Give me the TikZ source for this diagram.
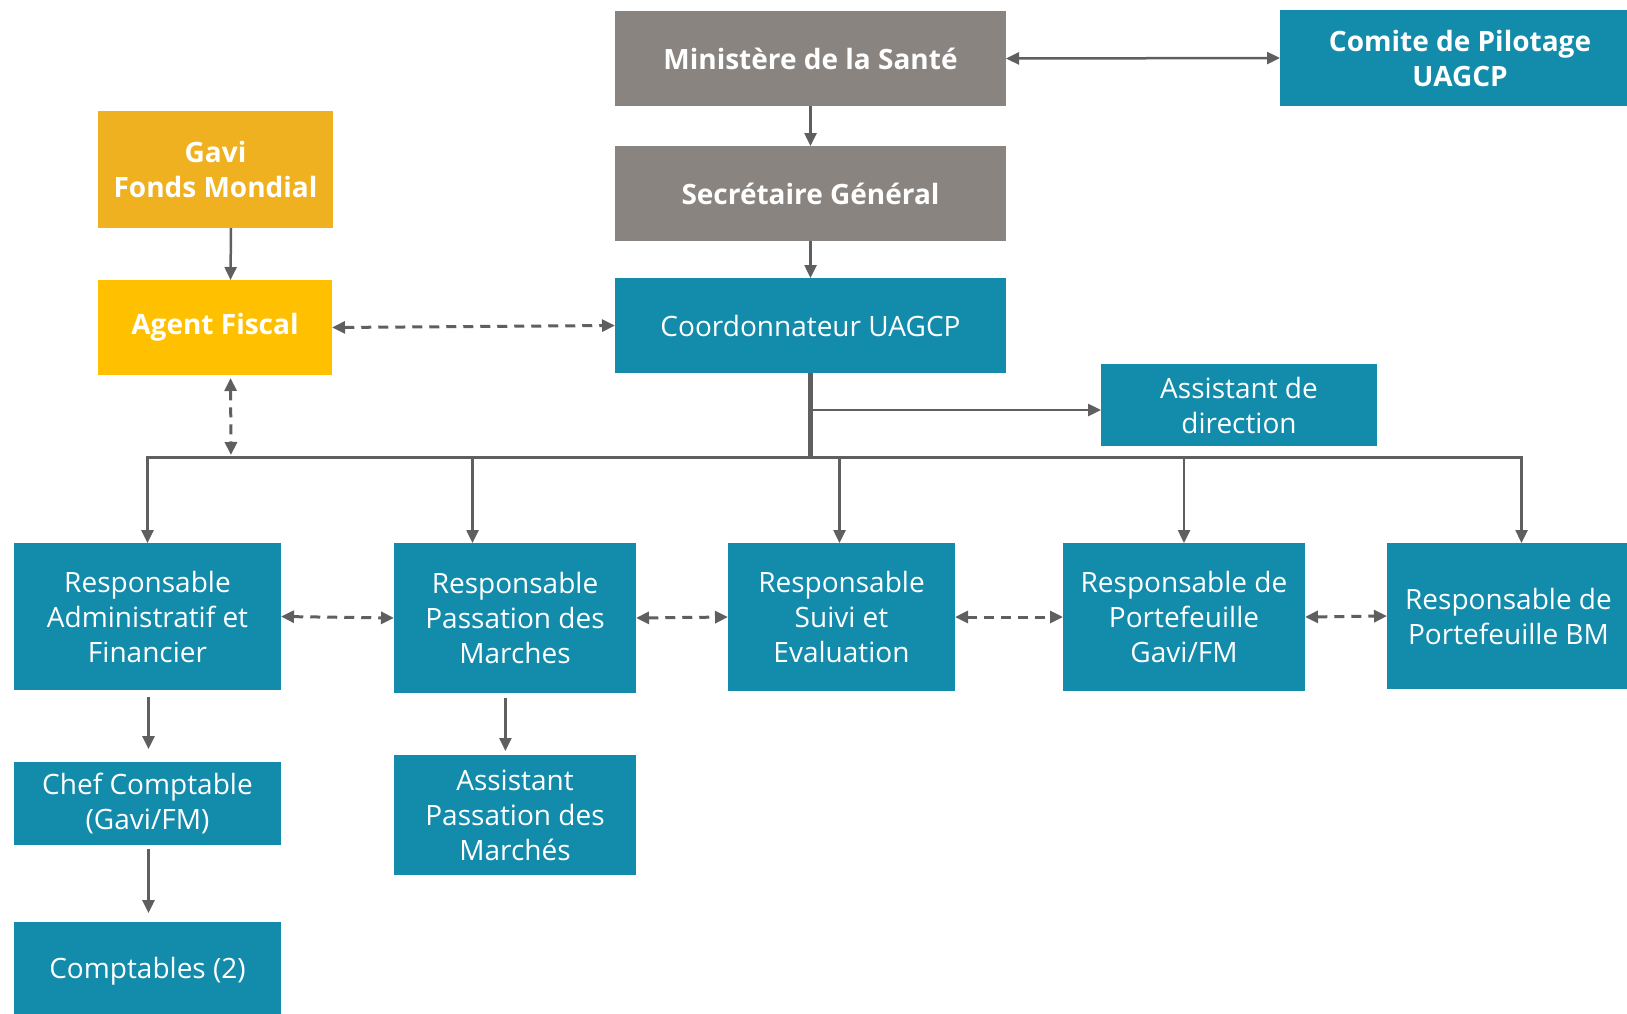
\documentclass[tikz,border=0pt]{standalone}
\usepackage{fontspec}
\setmainfont{Open Sans}
\usetikzlibrary{arrows.meta,calc}
\definecolor{tealc}{HTML}{138BAA}
\definecolor{grayc}{HTML}{898480}
\definecolor{goldA}{HTML}{F0B120}
\definecolor{goldB}{HTML}{FFC000}
\definecolor{linec}{HTML}{5F5F5F}
\begin{document}
\begin{tikzpicture}[x=1pt,y=-1pt,
  box/.style={inner sep=0pt, outer sep=0pt, align=center, text=white, font=\fontsize{28}{35}\selectfont},
  tbox/.style={box, fill=tealc},
  gbox/.style={box, fill=grayc, font=\fontsize{28}{35}\selectfont\bfseries},
  bold/.style={font=\fontsize{28}{35}\selectfont\bfseries},
  sz/.style 2 args={minimum width=#1pt, minimum height=#2pt},
  conn/.style={draw=linec, line width=2.5pt, -{Triangle[length=13pt,width=12pt]}},
  biconn/.style={draw=linec, line width=2.5pt, {Triangle[length=13pt,width=12pt]}-{Triangle[length=13pt,width=12pt]}},
  dconn/.style={biconn, line width=3pt, dash pattern=on 10pt off 7pt},
]
\useasboundingbox (0,0) rectangle (1627,1013);
\clip (0,0) rectangle (1627,1013);

% top
\node[gbox, sz={391}{95}] (mini) at (810.5,58.5) {Ministère de la Santé};
\node[tbox, bold, sz={360}{96}] (comite) at (1460,58) {Comite de Pilotage\\UAGCP};
\node[gbox, sz={391}{95}] (sec) at (810.5,193.5) {Secrétaire Général};
\node[tbox, sz={391}{95}] (coord) at (810.5,325.5) {Coordonnateur UAGCP};
\node[tbox, sz={276}{82}] (asst) at (1239,405) {Assistant de\\direction};
\node[box, bold, fill=goldA, sz={235}{117}] (gavi) at (215.5,169.5) {Gavi\\Fonds Mondial};
\node[box, bold, fill=goldB, sz={234}{95}] (agent) at (215,327.5) {Agent Fiscal};

% second row
\node[tbox, sz={267}{147}] (admin) at (147.5,616.5) {Responsable\\Administratif et\\Financier};
\node[tbox, sz={242}{150}] (pass) at (515,618) {Responsable\\Passation des\\Marches};
\node[tbox, sz={227}{148}] (suivi) at (841.5,617) {Responsable\\Suivi et\\Evaluation};
\node[tbox, sz={242}{148}] (pgavi) at (1184,617) {Responsable de\\Portefeuille\\Gavi/FM};
\node[tbox, sz={243}{146}] (pbm) at (1508.5,616) {Responsable de\\Portefeuille BM};

% lower
\node[tbox, sz={267}{83}] (chef) at (147.5,803.5) {Chef Comptable\\(Gavi/FM)};
\node[tbox, sz={267}{98}] (compt) at (147.5,971) {Comptables (2)};
\node[tbox, sz={242}{120}] (apass) at (515,815) {Assistant\\Passation des\\Marchés};

% bus coordinates
\coordinate (vC) at (810.5,457.5);
\coordinate (vA) at (147.5,457.5);
\coordinate (vP) at (472.5,457.5);
\coordinate (vS) at (839.5,457.5);
\coordinate (vG) at (1184,457.5);
\coordinate (vB) at (1521.5,457.5);
\coordinate (vF) at (231,455);
\coordinate (br) at (810.5,410);

% connectors
\draw[biconn] (mini.east) -- (comite.west);
\draw[conn] (mini.south) -- (sec.north);
\draw[conn] (sec.south) -- (coord.north);
\draw[conn] ([xshift=15.5pt]gavi.south) -- ([xshift=15.5pt]agent.north);
\draw[dconn] (agent.east) -- (coord.west);
\draw[dconn, shorten <=3pt] ([xshift=15.5pt]agent.south) -- (vF);

\draw[draw=linec, line width=5pt] (coord.south) -- (vC);
\draw[conn] (br) -- (asst.west |- br);
\draw[conn] (vC) -| (vA |- admin.north);
\draw[conn] (vC) -| (vB |- pbm.north);
\draw[conn] (vP) -- (vP |- pass.north);
\draw[conn] (vS) -- (vS |- suivi.north);
\draw[conn] (vG) -- (vG |- pgavi.north);

\draw[dconn] (admin.east) -- (pass.west);
\draw[dconn] (pass.east) -- (suivi.west);
\draw[dconn] (suivi.east) -- (pgavi.west);
\draw[dconn] (pgavi.east) -- (pbm.west);

\draw[conn, shorten <=7pt, shorten >=13pt] ([xshift=1pt]admin.south) -- ([xshift=1pt]chef.north);
\draw[conn, shorten <=4pt, shorten >=9pt] ([xshift=1pt]chef.south) -- ([xshift=1pt]compt.north);
\draw[conn, shorten <=5pt, shorten >=4pt] ([xshift=-9.6pt]pass.south) -- ([xshift=-9.6pt]apass.north);
\end{tikzpicture}
\end{document}
